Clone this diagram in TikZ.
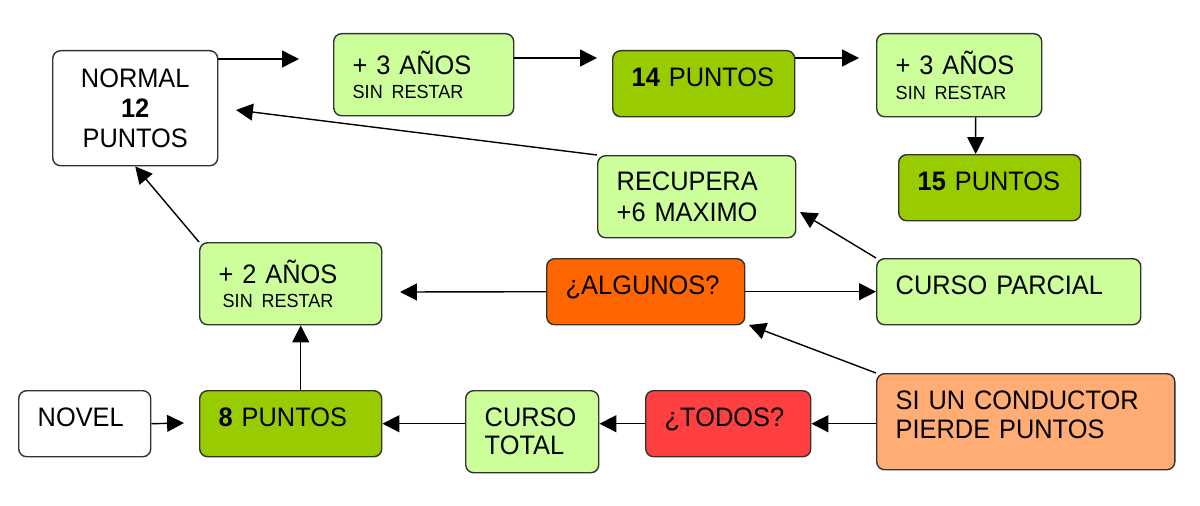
\documentclass[tikz,border=0pt]{standalone}
\usepackage{fontspec}
\setmainfont[FakeStretch=0.95]{Liberation Sans}
\usetikzlibrary{arrows.meta}
\definecolor{verdeclaro}{HTML}{CCFF99}
\definecolor{verdeosc}{HTML}{99CC00}
\definecolor{naranja}{HTML}{FF6600}
\definecolor{rojo}{HTML}{FF4040}
\definecolor{salmon}{HTML}{FFAD75}
\definecolor{borde}{HTML}{333333}
\newcommand{\chico}[1]{{\fontsize{13.5}{15}\selectfont #1}}

\begin{document}
\begin{tikzpicture}[x=0.025cm, y=-0.025cm,
    caja/.style={draw=borde, line width=1pt, rounded corners=2mm, anchor=north west,
        inner xsep=4.75mm, inner ysep=0pt, align=left, font=\fontsize{19}{21.5}\selectfont},
    una/.style={text height=14pt, text depth=10pt, minimum height=1.65cm},
    flecha/.style={-{Triangle[length=12pt,width=12pt]}, line width=1pt}]
    \useasboundingbox (0,0) rectangle (1200,505);
    \node[caja, fill=white, align=center, text width=3.175cm, minimum height=2.875cm] (N12) at (52,50) {NORMAL\\\textbf{12}\\PUNTOS};
    \node[caja, fill=verdeclaro, text width=3.55cm, minimum height=2.05cm] (A3a) at (333,33) {+ 3 AÑOS\\[-4pt]\chico{SIN RESTAR}};
    \node[caja, una, fill=verdeosc, text width=3.6cm] (P14) at (612,50) {\textbf{14}~PUNTOS};
    \node[caja, fill=verdeclaro, text width=3.175cm, minimum height=2.075cm] (A3b) at (876,33) {+ 3 AÑOS\\[-4pt]\chico{SIN RESTAR}};
    \node[caja, una, fill=verdeosc, text width=3.6cm] (P15) at (898,154) {\textbf{15}~PUNTOS};
    \node[caja, fill=verdeclaro, text width=4cm, minimum height=2.05cm] (R6) at (597,155) {RECUPERA\\+6 MAXIMO};
    \node[caja, fill=verdeclaro, text width=3.6cm, minimum height=2.05cm] (A2) at (199,242) {+ 2 AÑOS\\[-4pt]\hspace*{1mm}\chico{SIN RESTAR}};
    \node[caja, una, fill=naranja, text width=4cm] (Alg) at (546,258) {¿ALGUNOS?};
    \node[caja, una, fill=verdeclaro, text width=5.65cm] (CP) at (876,258) {CURSO~PARCIAL};
    \node[caja, una, fill=white, text width=2.35cm] (Nov) at (18,390) {NOVEL};
    \node[caja, una, fill=verdeosc, text width=3.6cm] (P8) at (199,390) {\textbf{8}~PUNTOS};
    \node[caja, fill=verdeclaro, text width=2.375cm, minimum height=2.05cm] (CT) at (465,390) {CURSO\\[-1.5pt]TOTAL};
    \node[caja, una, fill=rojo, text width=3.175cm] (Tod) at (645,390) {¿TODOS?};
    \node[caja, fill=salmon, text width=6.5cm, minimum height=2.4cm, text depth=30pt] (SI) at (876,373) {SI UN CONDUCTOR\\[-1.5pt]PIERDE PUNTOS};
    \coordinate (f1) at (299,59);
    \coordinate (f2) at (597,58);
    \coordinate (f3) at (859,58);
    \coordinate (f4) at (236,110);
    \coordinate (f5) at (800,212);
    \coordinate (f6) at (400,292);
    \coordinate (f7) at (749,325);
    \coordinate (f8) at (184,423);
    \draw[flecha] (f1 -| N12.east) -- (f1);
    \draw[flecha] (f2 -| A3a.east) -- (f2);
    \draw[flecha] (f3 -| P14.east) -- (f3);
    \draw[flecha] ([xshift=4.1mm]A3b.south) -- ([xshift=-3.5mm]P15.north);
    \draw[flecha] (R6.north west) -- (f4);
    \draw[flecha] (A2.north west) -- (N12.south);
    \draw[flecha] (CP.north west) -- (f5);
    \draw[flecha] (Alg.east) -- (CP.west);
    \draw[flecha] (Alg.west) -- (f6);
    \draw[flecha] (SI.north west) -- (f7);
    \draw[flecha] (SI.west |- Tod.east) -- (Tod.east);
    \draw[flecha] (Tod.west) -- (Tod.west -| CT.east);
    \draw[flecha] (CT.west |- P8.east) -- (P8.east);
    \draw[flecha] (Nov.east) -- (f8);
    \draw[flecha] ([xshift=2.5mm]P8.north) -- ([xshift=2.5mm]A2.south);
\end{tikzpicture}
\end{document}
